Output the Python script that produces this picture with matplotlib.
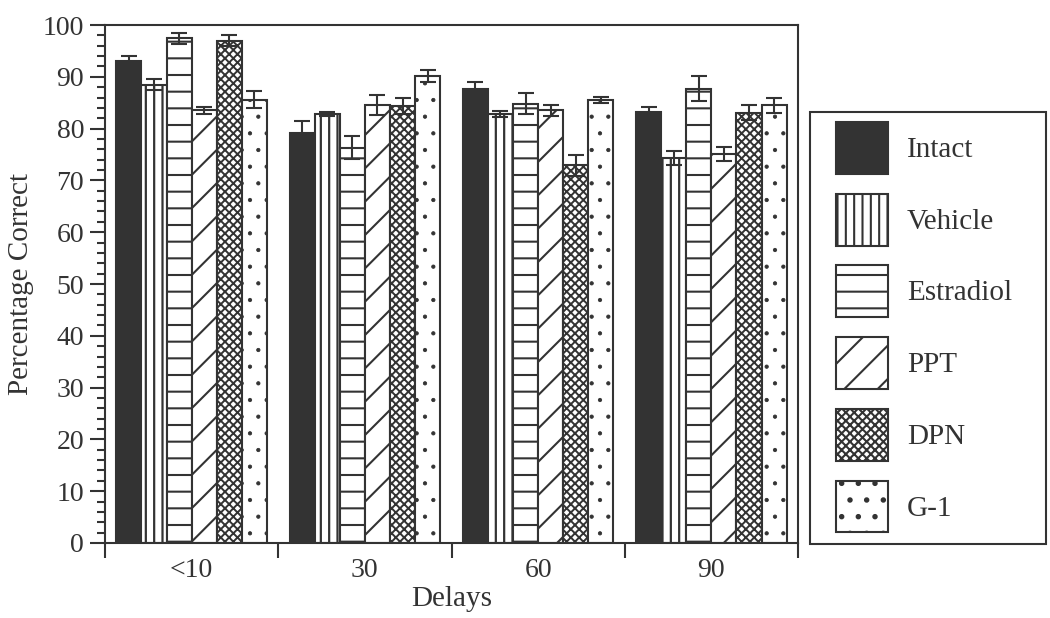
import matplotlib
matplotlib.use("Agg")
import matplotlib.pyplot as plt
import numpy as np
from matplotlib.patches import Rectangle, Patch

plt.rcParams["font.family"] = ["Liberation Serif", "DejaVu Serif"]
plt.rcParams["hatch.linewidth"] = 1.5

delays = ["<10", "30", "60", "90"]
groups = ["Intact", "Vehicle", "Estradiol", "PPT", "DPN", "G-1"]

intact = [93.0, 79.2, 87.7, 83.2]
intact_err = [1.0, 2.2, 1.3, 1.0]
vehicle = [88.5, 82.8, 82.8, 74.3]
vehicle_err = [1.1, 0.4, 0.6, 1.4]
estradiol = [97.4, 76.3, 84.8, 87.7]
estradiol_err = [1.0, 2.2, 2.0, 2.4]
ppt = [83.5, 84.5, 83.5, 75.1]
ppt_err = [0.6, 1.9, 1.0, 1.3]
dpn = [97.0, 84.4, 72.9, 83.1]
dpn_err = [1.0, 1.5, 2.0, 1.4]
g1 = [85.6, 90.2, 85.6, 84.5]
g1_err = [1.7, 1.2, 0.6, 1.4]

values = [intact, vehicle, estradiol, ppt, dpn, g1]
errors = [intact_err, vehicle_err, estradiol_err, ppt_err, dpn_err, g1_err]

dark = "#333333"
faces = [dark, "white", "white", "white", "white", "white"]
hatches = [None, "||", "-", "/", "xxxx", "."]
hatch_lw = [1.5, 1.6, 1.5, 1.5, 1.4, 0.6]


def set_hlw(p, lw):
    # per-patch hatch width, only on newer matplotlib
    if hasattr(p, "set_hatch_linewidth"):
        p.set_hatch_linewidth(lw)


fig = plt.figure(figsize=(10.5, 6.18), dpi=100)
ax = fig.add_axes([0.1, 0.1214, 0.66, 0.8381])

x = np.arange(len(delays)) + 0.5
w = 0.145
for i, (vals, errs) in enumerate(zip(values, errors)):
    pos = x + (i - 2.5) * w
    bars = ax.bar(pos, vals, width=w, color=faces[i], edgecolor=dark, linewidth=1.5,
                  hatch=hatches[i], label=groups[i], zorder=2)
    for b in bars:
        set_hlw(b, hatch_lw[i])
    ax.errorbar(pos, vals, yerr=errs, fmt="none", ecolor=dark, elinewidth=1.5,
                capsize=5.5, capthick=1.5, zorder=3)

ax.set_xlim(0, 4)
ax.set_ylim(0, 100)
ax.set_yticks(np.arange(0, 101, 10))
ax.set_yticks(np.arange(0, 101, 2), minor=True)
ax.set_xticks(x)
ax.set_xticklabels(delays)
ax.set_xticks(np.arange(0, 5), minor=True)

ax.tick_params(axis="y", which="major", length=11, width=1.5, color=dark,
               labelsize=20, labelcolor=dark, pad=4)
ax.tick_params(axis="y", which="minor", length=6, width=1.5, color=dark)
ax.tick_params(axis="x", which="major", length=0, labelsize=20,
               labelcolor=dark, pad=11)
ax.tick_params(axis="x", which="minor", length=11, width=1.5, color=dark)

for s in ax.spines.values():
    s.set_linewidth(1.5)
    s.set_color(dark)

ax.set_ylabel("Percentage Correct", fontsize=21, color=dark, labelpad=6)
ax.set_xlabel("Delays", fontsize=21, color=dark, labelpad=2)

# legend box drawn separately so its size can match the original
fig.patches.append(Rectangle((810 / 1050, 1 - 544 / 618), 236 / 1050, 432 / 618,
                             transform=fig.transFigure, facecolor="white",
                             edgecolor=dark, linewidth=1.5))
handles = []
for i in range(len(groups)):
    h = Patch(facecolor=faces[i], edgecolor=dark, linewidth=1.5,
              hatch=hatches[i], label=groups[i])
    set_hlw(h, hatch_lw[i])
    handles.append(h)
fig.legend(handles=handles, loc="upper left",
           bbox_to_anchor=(836 / 1050, 1 - 122 / 618), frameon=False,
           fontsize=21, handlelength=1.78, handleheight=2.36,
           labelspacing=0.68, handletextpad=0.65, borderpad=0,
           borderaxespad=0, labelcolor=dark)

fig.savefig("out.png", dpi=100)
